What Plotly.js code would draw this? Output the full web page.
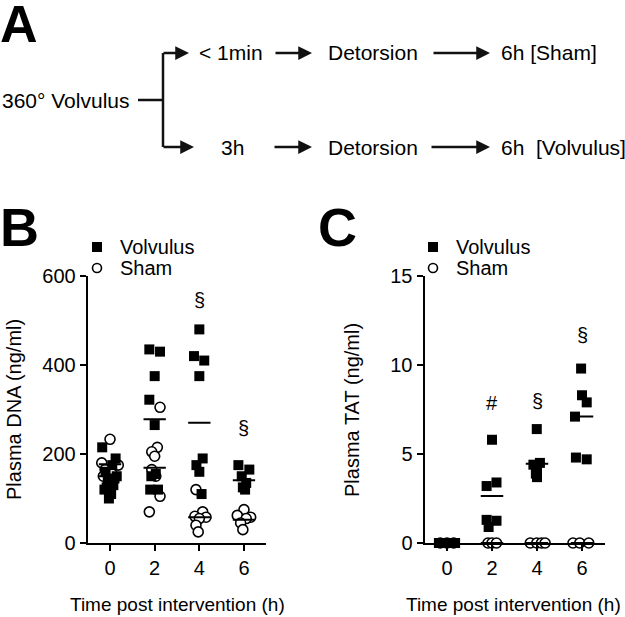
<!DOCTYPE html>
<html><head><meta charset="utf-8">
<script src="https://cdn.plot.ly/plotly-3.0.1.min.js"></script>
<style>html,body{margin:0;padding:0;background:#fff}#chart{width:625px;height:617px}</style>
</head><body><div id="chart"></div>
<script>
// ---------- data ----------
const timeTicks = [0, 2, 4, 6];
const meanTimes = [0, 2, 4, 6];

// Panel B: Plasma DNA (ng/ml)
const dnaVolvulusX = [-0.35,0.25,0.1,-0.2,0.3,-0.1,0.15,-0.25,0.05,-0.05,0.2,-0.15,
  1.76,2.24,2.0,1.76,2.0,2.05,1.85,1.8,2.15,
  4.0,3.76,4.22,4.0,4.15,3.87,4.0,4.1,
  5.75,6.24,5.9,6.1,5.95,6.05];
const dnaVolvulusY = [215,190,175,160,150,140,130,120,110,100,145,125,
  435,430,375,322,265,155,150,120,120,
  480,420,410,375,190,175,160,110,
  175,165,150,135,125,120];
const dnaShamX = [0,-0.37,0.37,-0.22,-0.3,0.1,
  2.24,2.12,1.87,2.0,1.87,2.05,2.24,1.76,
  3.85,4.15,3.8,4.3,4.0,3.85,3.95,
  6.0,5.7,6.3,6.1,5.85,5.95];
const dnaShamY = [233,180,175,165,150,155,
  305,215,205,195,165,150,105,70,
  120,70,60,58,55,40,25,
  75,62,58,55,45,30];
const dnaVolvulusMean = [150, 278, 270, 141];
const dnaShamMean = [177, 169, 58, 52];
const dnaSigX = [4, 6];
const dnaSigY = [546, 258];
const dnaSigText = ['§', '§'];

// Panel C: Plasma TAT (ng/ml)
const tatVolvulusX = [-0.36,-0.24,-0.12,0,0.12,0.24,0.36,
  2.0,2.2,1.76,1.76,2.2,1.85,
  3.99,4.13,3.84,4.0,3.95,4.0,
  5.96,6.0,6.21,5.69,5.73,6.21];
const tatVolvulusY = [0,0,0,0,0,0,0,
  5.8,3.4,3.2,1.3,1.25,0.9,
  6.4,4.5,4.4,4.2,3.9,3.7,
  9.8,8.3,7.9,7.1,4.8,4.7];
const tatShamX = [-0.3,0,0.3, 1.82,2.0,2.2, 3.7,3.99,4.2,4.36, 5.6,5.9,6.3];
const tatShamY = [0,0,0, 0,0,0, 0,0,0,0, 0,0,0];
const tatVolvulusMean = [0, 2.64, 4.45, 7.1];
const tatShamMean = [0, 0, 0, 0];
const tatSigX = [2, 4, 6];
const tatSigY = [7.86, 8.0, 11.7];
const tatSigText = ['#', '§', '§'];

const dnaTicks = [0, 200, 400, 600];
const tatTicks = [0, 5, 10, 15];

// ---------- helpers ----------
const W = 625, H = 617;
const FONT = 'Arial, "Liberation Sans", Helvetica, sans-serif';
const px = x => x / W;
const py = y => 1 - y / H;
function meanSegments(times, means, half) {
  const xs = [], ys = [];
  times.forEach((t, i) => { xs.push(t - half, t + half, null); ys.push(means[i], means[i], null); });
  return {x: xs, y: ys};
}
const sq = {symbol: 'square', size: 10, color: '#000', line: {width: 0}};
const circ = {symbol: 'circle', size: 10, color: '#fff', line: {width: 1.6, color: '#000'}};

const traces = [];
function panel(xa, ya, shX, shY, voX, voY, voMean, shMean) {
  traces.push({type: 'scatter', mode: 'markers', x: shX, y: shY, xaxis: xa, yaxis: ya, marker: circ, cliponaxis: false, showlegend: false, hoverinfo: 'skip'});
  traces.push({type: 'scatter', mode: 'markers', x: voX, y: voY, xaxis: xa, yaxis: ya, marker: sq, cliponaxis: false, showlegend: false, hoverinfo: 'skip'});
  const mv = meanSegments(meanTimes, voMean, 0.5);
  const ms = meanSegments(meanTimes, shMean, 0.5);
  traces.push({type: 'scatter', mode: 'lines', x: ms.x, y: ms.y, xaxis: xa, yaxis: ya, line: {color: '#000', width: 2}, cliponaxis: false, showlegend: false, hoverinfo: 'skip'});
  traces.push({type: 'scatter', mode: 'lines', x: mv.x, y: mv.y, xaxis: xa, yaxis: ya, line: {color: '#000', width: 2}, cliponaxis: false, showlegend: false, hoverinfo: 'skip'});
}
panel('x', 'y', dnaShamX, dnaShamY, dnaVolvulusX, dnaVolvulusY, dnaVolvulusMean, dnaShamMean);
panel('x2', 'y2', tatShamX, tatShamY, tatVolvulusX, tatVolvulusY, tatVolvulusMean, tatShamMean);

const yDom = [py(543), py(276)];
const axBase = {showline: true, linecolor: '#000', linewidth: 2, ticks: 'outside', ticklen: 6, tickwidth: 2, tickcolor: '#000',
  showgrid: false, zeroline: false, tickfont: {family: FONT, size: 20, color: '#000'}, fixedrange: true};

const annotations = [];
const shapes = [];
function txt(text, x, y, size, opts) {
  annotations.push(Object.assign({text: text, x: px(x), y: py(y), xref: 'paper', yref: 'paper', showarrow: false,
    xanchor: 'left', yanchor: 'middle', font: {family: FONT, size: size, color: '#000'}}, opts || {}));
}
function line(x0, y0, x1, y1) {
  shapes.push({type: 'line', xref: 'paper', yref: 'paper', x0: px(x0), y0: py(y0), x1: px(x1), y1: py(y1), line: {color: '#111', width: 2.5}});
}
function arrow(x0, y, x1) {
  annotations.push({text: '', xref: 'paper', yref: 'paper', x: px(x1), y: py(y), ax: x0 - x1, ay: 0,
    showarrow: true, arrowhead: 2, arrowsize: 1.1, arrowwidth: 2.5, arrowcolor: '#111'});
}

// Panel letters
txt('<b>A</b>', -2, 24, 52);
txt('<b>B</b>', -2, 227, 54);
txt('<b>C</b>', 316, 227, 54);

// Panel A diagram
txt('360° Volvulus', 0, 100, 21);
line(138, 100, 163, 100);
line(163, 53, 163, 147);
arrow(162, 53, 189);
arrow(162, 147, 194);
txt('< 1min', 197, 53, 21);
arrow(274, 53, 312);
txt('Detorsion', 326, 53, 21);
arrow(432, 53, 490);
txt('6h [Sham]', 499, 53, 21);
txt('3h', 219, 147, 21);
arrow(273, 147, 312);
txt('Detorsion', 326, 147, 21);
arrow(430, 147, 490);
txt('6h  [Volvulus]', 499, 147, 21);

// Legends
function legend(cx) {
  shapes.push({type: 'rect', xref: 'paper', yref: 'paper', x0: px(cx - 5), x1: px(cx + 5), y0: py(252), y1: py(242), fillcolor: '#000', line: {width: 0}});
  shapes.push({type: 'circle', xref: 'paper', yref: 'paper', x0: px(cx - 4.5), x1: px(cx + 4.5), y0: py(272.5), y1: py(263.5), fillcolor: '#fff', line: {color: '#000', width: 1.6}});
  txt('Volvulus', cx + 21, 247, 20);
  txt('Sham', cx + 21, 268, 20);
}
legend(97);
legend(433);

// Axis titles
txt('Plasma DNA (ng/ml)', 14, 410, 20, {xanchor: 'center', textangle: -90});
txt('Plasma TAT (ng/ml)', 352, 410, 20, {xanchor: 'center', textangle: -90});
txt('Time post intervention (h)', 177, 604, 19, {xanchor: 'center'});
txt('Time post intervention (h)', 513, 604, 19, {xanchor: 'center'});

// significance marks (data coords)
dnaSigX.forEach((x, i) => annotations.push({text: dnaSigText[i], x: x, y: dnaSigY[i], xref: 'x', yref: 'y', showarrow: false,
  font: {family: FONT, size: 20, color: '#000'}}));
tatSigX.forEach((x, i) => annotations.push({text: tatSigText[i], x: x, y: tatSigY[i], xref: 'x2', yref: 'y2', showarrow: false,
  font: {family: FONT, size: 20, color: '#000'}}));

const layout = {
  width: W, height: H, margin: {l: 0, r: 0, t: 0, b: 0}, paper_bgcolor: '#fff', plot_bgcolor: 'rgba(0,0,0,0)',
  showlegend: false, font: {family: FONT, color: '#000'},
  xaxis: Object.assign({}, axBase, {domain: [px(87.7), px(266.3)], range: [-1, 7], tickvals: timeTicks, anchor: 'y'}),
  yaxis: Object.assign({}, axBase, {domain: yDom, range: [0, 600], tickvals: dnaTicks, anchor: 'x'}),
  xaxis2: Object.assign({}, axBase, {domain: [px(424.5), px(604.5)], range: [-1, 7], tickvals: timeTicks, anchor: 'y2'}),
  yaxis2: Object.assign({}, axBase, {domain: yDom, range: [0, 15], tickvals: tatTicks, anchor: 'x2'}),
  annotations: annotations, shapes: shapes
};
Plotly.newPlot('chart', traces, layout, {displayModeBar: false, staticPlot: true});
</script></body></html>
